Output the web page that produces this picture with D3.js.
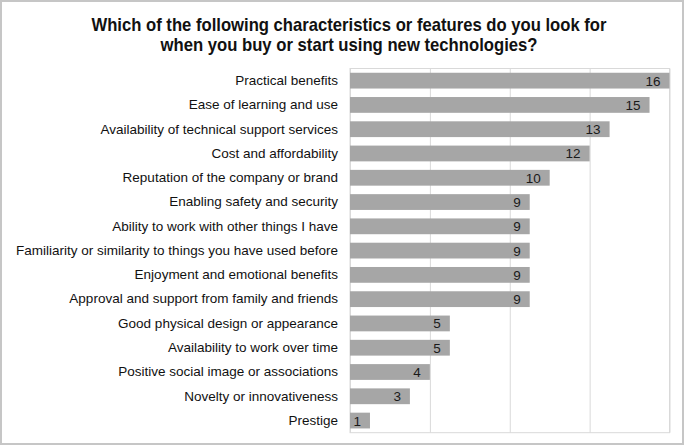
<!DOCTYPE html>
<html><head><meta charset="utf-8">
<script src="https://cdn.jsdelivr.net/npm/d3@7"></script>
<style>body{margin:0;background:#fff}svg{display:block}</style>
</head><body>
<script>
const categories = [
  "Practical benefits",
  "Ease of learning and use",
  "Availability of technical support services",
  "Cost and affordability",
  "Reputation of the company or brand",
  "Enabling safety and security",
  "Ability to work with other things I have",
  "Familiarity or similarity to things you have used before",
  "Enjoyment and emotional benefits",
  "Approval and support from family and friends",
  "Good physical design or appearance",
  "Availability to work over time",
  "Positive social image or associations",
  "Novelty or innovativeness",
  "Prestige"
];
const values = [16, 15, 13, 12, 10, 9, 9, 9, 9, 9, 5, 5, 4, 3, 1];
const xTicks = [0, 4, 8, 12, 16];
const titleLines = [
  "Which of the following characteristics or features do you look for",
  "when you buy or start using new technologies?"
];

const W = 685, H = 446;
const svg = d3.select("body").append("svg").attr("width", W).attr("height", H);

// outer frame
svg.append("rect").attr("x", 1).attr("y", 1).attr("width", W - 3).attr("height", H - 3)
  .attr("fill", "#fff").attr("stroke", "#c6c6c6").attr("stroke-width", 2);

const plot = {left: 350, right: 669.5, top: 68.5, bottom: 432.7};
const x = d3.scaleLinear().domain([0, 16]).range([plot.left, plot.right]);
const y = d3.scaleBand().domain(categories).range([plot.top, plot.bottom]).paddingInner(0.35).paddingOuter(0.175);

// title
const tw = [515, 377];
svg.append("g").selectAll("text").data(titleLines).join("text")
  .attr("x", 349).attr("y", (d, i) => 31 + i * 19.5)
  .attr("text-anchor", "middle")
  .attr("font-family", "Liberation Sans, Arial, sans-serif")
  .attr("font-weight", "bold").attr("font-size", 18.5).attr("fill", "#111")
  .attr("textLength", (d, i) => tw[i]).attr("lengthAdjust", "spacingAndGlyphs")
  .text(d => d);

// gridlines
const xAxis = d3.axisBottom(x).tickValues(xTicks).tickSize(-(plot.bottom - plot.top)).tickFormat("");
const gx = svg.append("g").attr("transform", `translate(0,${plot.bottom})`).call(xAxis);
gx.select(".domain").remove();
gx.selectAll(".tick line").attr("stroke", "#d9d9d9").attr("stroke-width", 1);

// plot border
svg.append("rect").attr("x", plot.left).attr("y", plot.top)
  .attr("width", plot.right - plot.left).attr("height", plot.bottom - plot.top)
  .attr("fill", "none").attr("stroke", "#d9d9d9").attr("stroke-width", 1);

// bars
svg.append("g").selectAll("rect").data(categories).join("rect")
  .attr("x", x(0)).attr("y", d => y(d))
  .attr("width", (d, i) => x(values[i]) - x(0)).attr("height", y.bandwidth())
  .attr("fill", "#a6a6a6");

// value labels
svg.append("g").selectAll("text").data(categories).join("text")
  .attr("x", (d, i) => x(values[i]) - 9).attr("y", d => y(d) + y.bandwidth() / 2 + 5)
  .attr("text-anchor", "end")
  .attr("font-family", "Liberation Sans, Arial, sans-serif").attr("font-size", 13.5).attr("fill", "#1a1a1a")
  .text((d, i) => values[i]);

// category labels
const yAxis = d3.axisLeft(y).tickSize(0).tickPadding(12);
const gy = svg.append("g").attr("transform", `translate(${plot.left},0)`).call(yAxis);
gy.select(".domain").remove();
gy.selectAll(".tick text")
  .attr("font-family", "Liberation Sans, Arial, sans-serif").attr("font-size", 13.5).attr("fill", "#111");
</script>
</body></html>
